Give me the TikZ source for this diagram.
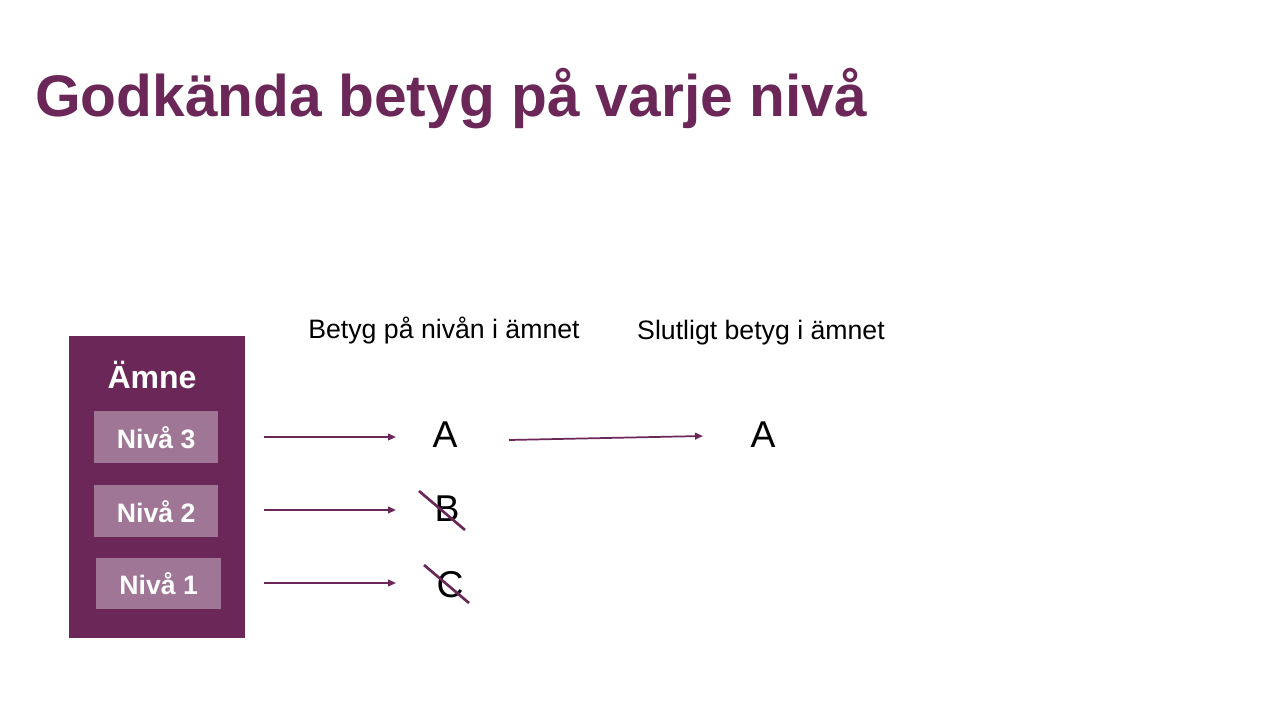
\documentclass[tikz,border=0pt]{standalone}
\usepackage{fontspec}
\setmainfont{Liberation Sans}
\usetikzlibrary{arrows.meta}
\definecolor{dpurple}{RGB}{107,39,88}
\definecolor{lpurple}{RGB}{160,118,150}
\begin{document}
\begin{tikzpicture}[x=0.75pt,y=-0.75pt,
  levelbox/.style={fill=lpurple,draw=none,inner sep=0pt,anchor=north west},
  leveltxt/.style={text=white,font=\fontsize{20}{24}\selectfont\bfseries},
  grade/.style={font=\fontsize{28}{32}\selectfont,text=black,inner sep=0pt},
  header/.style={font=\fontsize{20}{24}\selectfont,text=black,inner sep=0pt},
  arr/.style={draw=dpurple,line width=1.3pt,-{Triangle[length=6pt,width=5pt]}},
  strike/.style={draw=dpurple,line width=2pt}]
\useasboundingbox (0,0) rectangle (1280,720);
\fill[white] (0,0) rectangle (1280,720);
% title
\node[anchor=base west,inner sep=0pt,text=dpurple,font=\fontsize{44}{52}\selectfont\bfseries] (title) at (35,117) {Godkända betyg på varje nivå};
% subject box
\fill[dpurple] (69,336) rectangle (245,638);
\node[text=white,font=\fontsize{24}{28}\selectfont\bfseries,inner sep=0pt] (amne) at (152,375) {Ämne};
\node[levelbox,minimum width=124*0.75pt,minimum height=52*0.75pt] (n3) at (94,411) {};
\node[leveltxt] at (n3.center) {Nivå 3};
\node[levelbox,minimum width=124*0.75pt,minimum height=52*0.75pt] (n2) at (94,485) {};
\node[leveltxt] at (n2.center) {Nivå 2};
\node[levelbox,minimum width=125*0.75pt,minimum height=51*0.75pt] (n1) at (96,558) {};
\node[leveltxt] at (n1.center) {Nivå 1};
% headers
\node[header] (h1) at (444,331) {Betyg på nivån i ämnet};
\node[header] (h2) at (761,333) {Slutligt betyg i ämnet};
% grades
\node[grade] (gA) at (445,435) {A};
\node[grade] (gB) at (447,509) {B};
\node[grade] (gC) at (450,585) {C};
\node[grade] (fA) at (763,435) {A};
% arrow coordinates
\coordinate (s3) at (264,437); \coordinate (e3) at (396,437);
\coordinate (s2) at (264,510); \coordinate (e2) at (396,510);
\coordinate (s1) at (264,583); \coordinate (e1) at (396,583);
\coordinate (sf) at (509,440); \coordinate (ef) at (703,436);
\draw[arr] (s3) -- (e3);
\draw[arr] (s2) -- (e2);
\draw[arr] (s1) -- (e1);
\draw[arr] (sf) -- (ef);
% strike-throughs
\coordinate (b1) at (419,491); \coordinate (b2) at (465,530);
\coordinate (c1) at (424,565); \coordinate (c2) at (469,603);
\draw[strike] (b1) -- (b2);
\draw[strike] (c1) -- (c2);
\end{tikzpicture}
\end{document}
